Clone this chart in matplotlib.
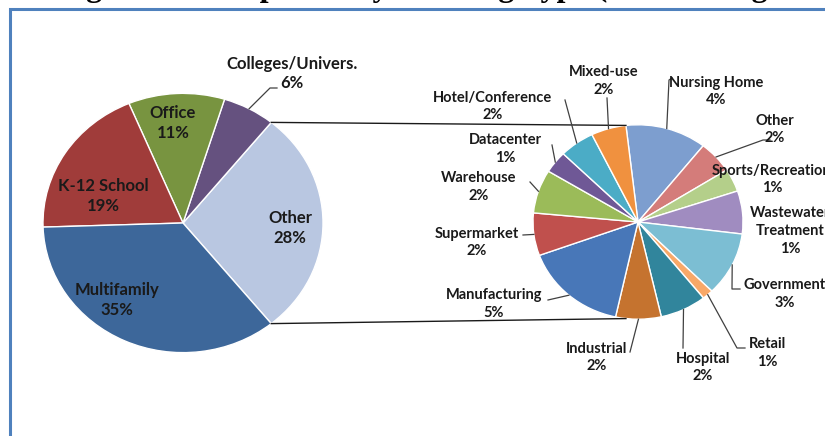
import numpy as np
import matplotlib
matplotlib.use("Agg")
import matplotlib.pyplot as plt

# main pie (share of all projects, %)
main_labels = ["Other", "Colleges/Univers.", "Office", "K-12 School", "Multifamily"]
main_values = [28, 6, 11, 19, 35]
main_colors = ["#B9C7E1", "#65517F", "#789440", "#A03C3A", "#3D679A"]

# breakdown of "Other" (shares, text as printed)
sub_labels = ["Nursing Home", "Other", "Sports/Recreation", "Wastewater\nTreatment",
              "Government", "Retail", "Hospital", "Industrial", "Manufacturing",
              "Supermarket", "Warehouse", "Datacenter", "Hotel/Conference", "Mixed-use"]
sub_values = [3.5, 1.5, 1.07, 2.0, 2.97, 0.48, 2.0, 1.96, 4.48, 1.98, 2.03, 1.02, 1.51, 1.51]
sub_pct = ["4%", "2%", "1%", "1%", "3%", "1%", "2%", "2%", "5%", "2%", "2%", "1%", "2%", "2%"]
sub_colors = ["#7D9ECF", "#D47C7A", "#B4CF8A", "#A08CC0", "#7CBED3", "#F8A868", "#31859C",
              "#C5732F", "#4877B8", "#C0504D", "#9BBB59", "#6F5896", "#4BACC6", "#F0913F"]

W, H = 825, 436
S = 1.08  # the picture is a bit stretched sideways


def P(x, y):
    # pixel position (from top-left) -> data coords
    return x, (H - y) * S


fig = plt.figure(figsize=(W / 100, H / 100), dpi=100)
ax = fig.add_axes([0, 0, 1, 1])

lab_font = dict(family=["Lato", "DejaVu Sans"], weight="bold", color="#1A1A1A")
wprops = dict(edgecolor="white", linewidth=1.0)

c1 = P(183, 223)
r1 = 140
start1 = -main_values[0] / sum(main_values) * 180
w1, _ = ax.pie(main_values, colors=main_colors, center=c1, radius=r1,
               startangle=start1, counterclock=True, wedgeprops=wprops, frame=True)

c2 = P(638, 222)
r2 = 105
start2 = 96.6
w2, _ = ax.pie(sub_values, colors=sub_colors, center=c2, radius=r2,
               startangle=start2, counterclock=False, wedgeprops=wprops, frame=True)


def rim(c, r, ang):
    a = np.deg2rad(ang)
    return c[0] + r * np.cos(a), c[1] + r * np.sin(a)


# connector lines between the two pies
other = w1[0]
for a1, a2 in [(other.theta2, start2), (other.theta1, -start2)]:
    p1 = rim(c1, r1, a1)
    p2 = rim(c2, r2, a2)
    ax.plot([p1[0], p2[0]], [p1[1], p2[1]], color="#1A1A1A", lw=1.0)

# main pie labels
main_pos = [(290, 228), (292, 73.5), (173, 123), (103, 196), (117, 300)]
for name, v, (x, y) in zip(main_labels, main_values, main_pos):
    ax.text(*P(x, y), f"{name}\n{v}%", ha="center", va="center", fontsize=12,
            linespacing=1.3, **lab_font)

# leader for Colleges/Univers.
mid = (w1[1].theta1 + w1[1].theta2) / 2
px = [P(277, 88), P(270, 88), rim(c1, r1, mid)]
ax.plot([p[0] for p in px], [p[1] for p in px], color="#404040", lw=0.9)

# sub pie labels
sub_pos = [(716, 91.5), (775, 129.5), (772, 179.5), (790, 231), (785, 294), (767, 353),
           (703, 367.5), (597, 357.5), (494, 304), (477, 242.5), (479, 187), (505, 149),
           (493, 106.5), (604, 81)]
for name, pct, (x, y) in zip(sub_labels, sub_pct, sub_pos):
    ax.text(*P(x, y), f"{name}\n{pct}", ha="center", va="center", fontsize=10.5,
            linespacing=1.35, **lab_font)

# leader lines: anchor points near each label, ending on the wedge rim
leaders = {
    0: [(672, 78), (669, 80)],
    1: [(770, 140), (763, 140)],
    4: [(740, 289), (732, 289)],
    5: [(745, 348), (737, 348)],
    6: [(683, 348)],
    7: [(630, 352)],
    8: [(548, 300)],
    9: [(523, 235)],
    10: [(530, 182)],
    11: [(552, 145)],
    12: [(565, 100)],
    13: [(607, 98)],
}
for i, pts in leaders.items():
    w = w2[i]
    end = rim(c2, r2, (w.theta1 + w.theta2) / 2)
    path = [P(*p) for p in pts] + [end]
    ax.plot([p[0] for p in path], [p[1] for p in path], color="#404040", lw=0.9)

# frame of the cropped figure
bx = [P(10, H), P(10, 9), P(W, 9)]
ax.plot([p[0] for p in bx], [p[1] for p in bx], color="#4F81BD", lw=2.2,
        solid_joinstyle="miter")

ax.set_xlim(0, W)
ax.set_ylim(0, H * S)
ax.set_aspect("auto")
ax.axis("off")

# title line, cut off by the top of the picture
fig.text(37 / W, 1 + 4.5 / H, "Program Participation by Building Type (data through 2014)",
         ha="left", va="baseline", fontsize=23, weight="bold",
         family=["Liberation Serif", "DejaVu Serif"])

fig.savefig("out.png", dpi=100)
